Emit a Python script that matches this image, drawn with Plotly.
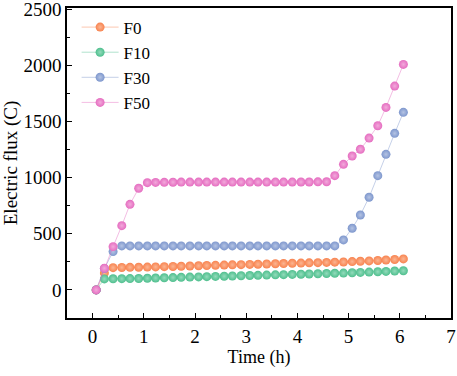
import plotly.graph_objects as go

time_h = [0.07, 0.23, 0.40, 0.57, 0.73, 0.90, 1.07, 1.23, 1.40, 1.57, 1.73, 1.90,
          2.07, 2.23, 2.40, 2.57, 2.73, 2.90, 3.07, 3.23, 3.40, 3.57, 3.73, 3.90,
          4.07, 4.23, 4.40, 4.57, 4.73, 4.90, 5.07, 5.23, 5.40, 5.57, 5.73, 5.90, 6.07]

F0 = [0, 150, 198, 200, 201, 202, 203, 205, 207, 209, 211, 213, 215, 217, 219, 221,
      223, 225, 227, 229, 231, 233, 235, 237, 239, 241, 243, 245, 247, 249, 252, 255,
      258, 262, 266, 271, 276]
F10 = [0, 98, 99, 100, 101, 102, 104, 106, 108, 110, 112, 114, 116, 118, 120, 122,
       124, 126, 128, 130, 132, 134, 136, 138, 140, 142, 144, 146, 148, 150, 153, 156,
       159, 162, 165, 168, 171]
F30 = [0, 190, 341, 392, 392, 392, 392, 392, 392, 392, 392, 392, 392, 392, 392, 392,
       392, 392, 392, 392, 392, 392, 392, 392, 392, 392, 392, 392, 392, 445, 549, 667,
       825, 1017, 1207, 1394, 1581]
F50 = [0, 193, 385, 572, 762, 905, 955, 957, 958, 959, 960, 960, 960, 960, 960, 960,
       960, 960, 960, 960, 960, 960, 960, 960, 961, 961, 962, 963, 1017, 1118, 1192, 1252,
       1352, 1462, 1625, 1815, 2008]

series = [("F0", F0, "#F8834F", "#FBB592", "rgba(248,131,79,0.45)"),
          ("F10", F10, "#4FBF8E", "#93DBBB", "rgba(79,191,142,0.45)"),
          ("F30", F30, "#7E97CD", "#B4C3E3", "rgba(126,151,205,0.45)"),
          ("F50", F50, "#E56DC0", "#F2A9DB", "rgba(229,109,192,0.45)")]

fig = go.Figure()
for name, vals, col, hi, lcol in series:
    fig.add_trace(go.Scatter(
        x=time_h, y=vals, name=name, mode="lines+markers",
        line=dict(color=lcol, width=1),
        marker=dict(size=9, color=col,
                    gradient=dict(type="radial", color=hi),
                    line=dict(width=0)),
    ))

font_family = "Liberation Serif"
fig.update_layout(
    width=457, height=376,
    margin=dict(l=67, r=6, t=8, b=58, autoexpand=False),
    paper_bgcolor="white", plot_bgcolor="white",
    font=dict(family=font_family, size=18, color="black"),
    showlegend=True,
    legend=dict(x=0.025, y=0.995, xanchor="left", yanchor="top",
                bgcolor="rgba(0,0,0,0)", font=dict(family=font_family, size=17),
                itemwidth=37, tracegroupgap=0),
    xaxis=dict(range=[-0.5, 7], dtick=1, tick0=0, showgrid=False, zeroline=False,
               automargin=False, ticklabeloverflow="allow",
               showline=True, linecolor="black", linewidth=1.5, mirror=True,
               ticks="inside", ticklen=5, tickwidth=1.2, tickcolor="black",
               minor=dict(dtick=0.5, ticks="inside", ticklen=3, tickwidth=1, tickcolor="black"),
               title=dict(text="Time (h)", font=dict(family=font_family, size=18), standoff=3),
               tickfont=dict(family=font_family, size=19)),
    yaxis=dict(range=[-250, 2510], dtick=500, tick0=0, showgrid=False, zeroline=False,
               automargin=False, ticklabeloverflow="allow",
               showline=True, linecolor="black", linewidth=1.5, mirror=True,
               ticks="inside", ticklen=5, tickwidth=1.2, tickcolor="black",
               minor=dict(dtick=250, ticks="inside", ticklen=3, tickwidth=1, tickcolor="black"),
               title=dict(text="Electric flux (C)", font=dict(family=font_family, size=19), standoff=8),
               tickfont=dict(family=font_family, size=19)),
)

fig.write_html("out.html", config={"displayModeBar": False},
               post_script="document.body.style.margin='0';")
